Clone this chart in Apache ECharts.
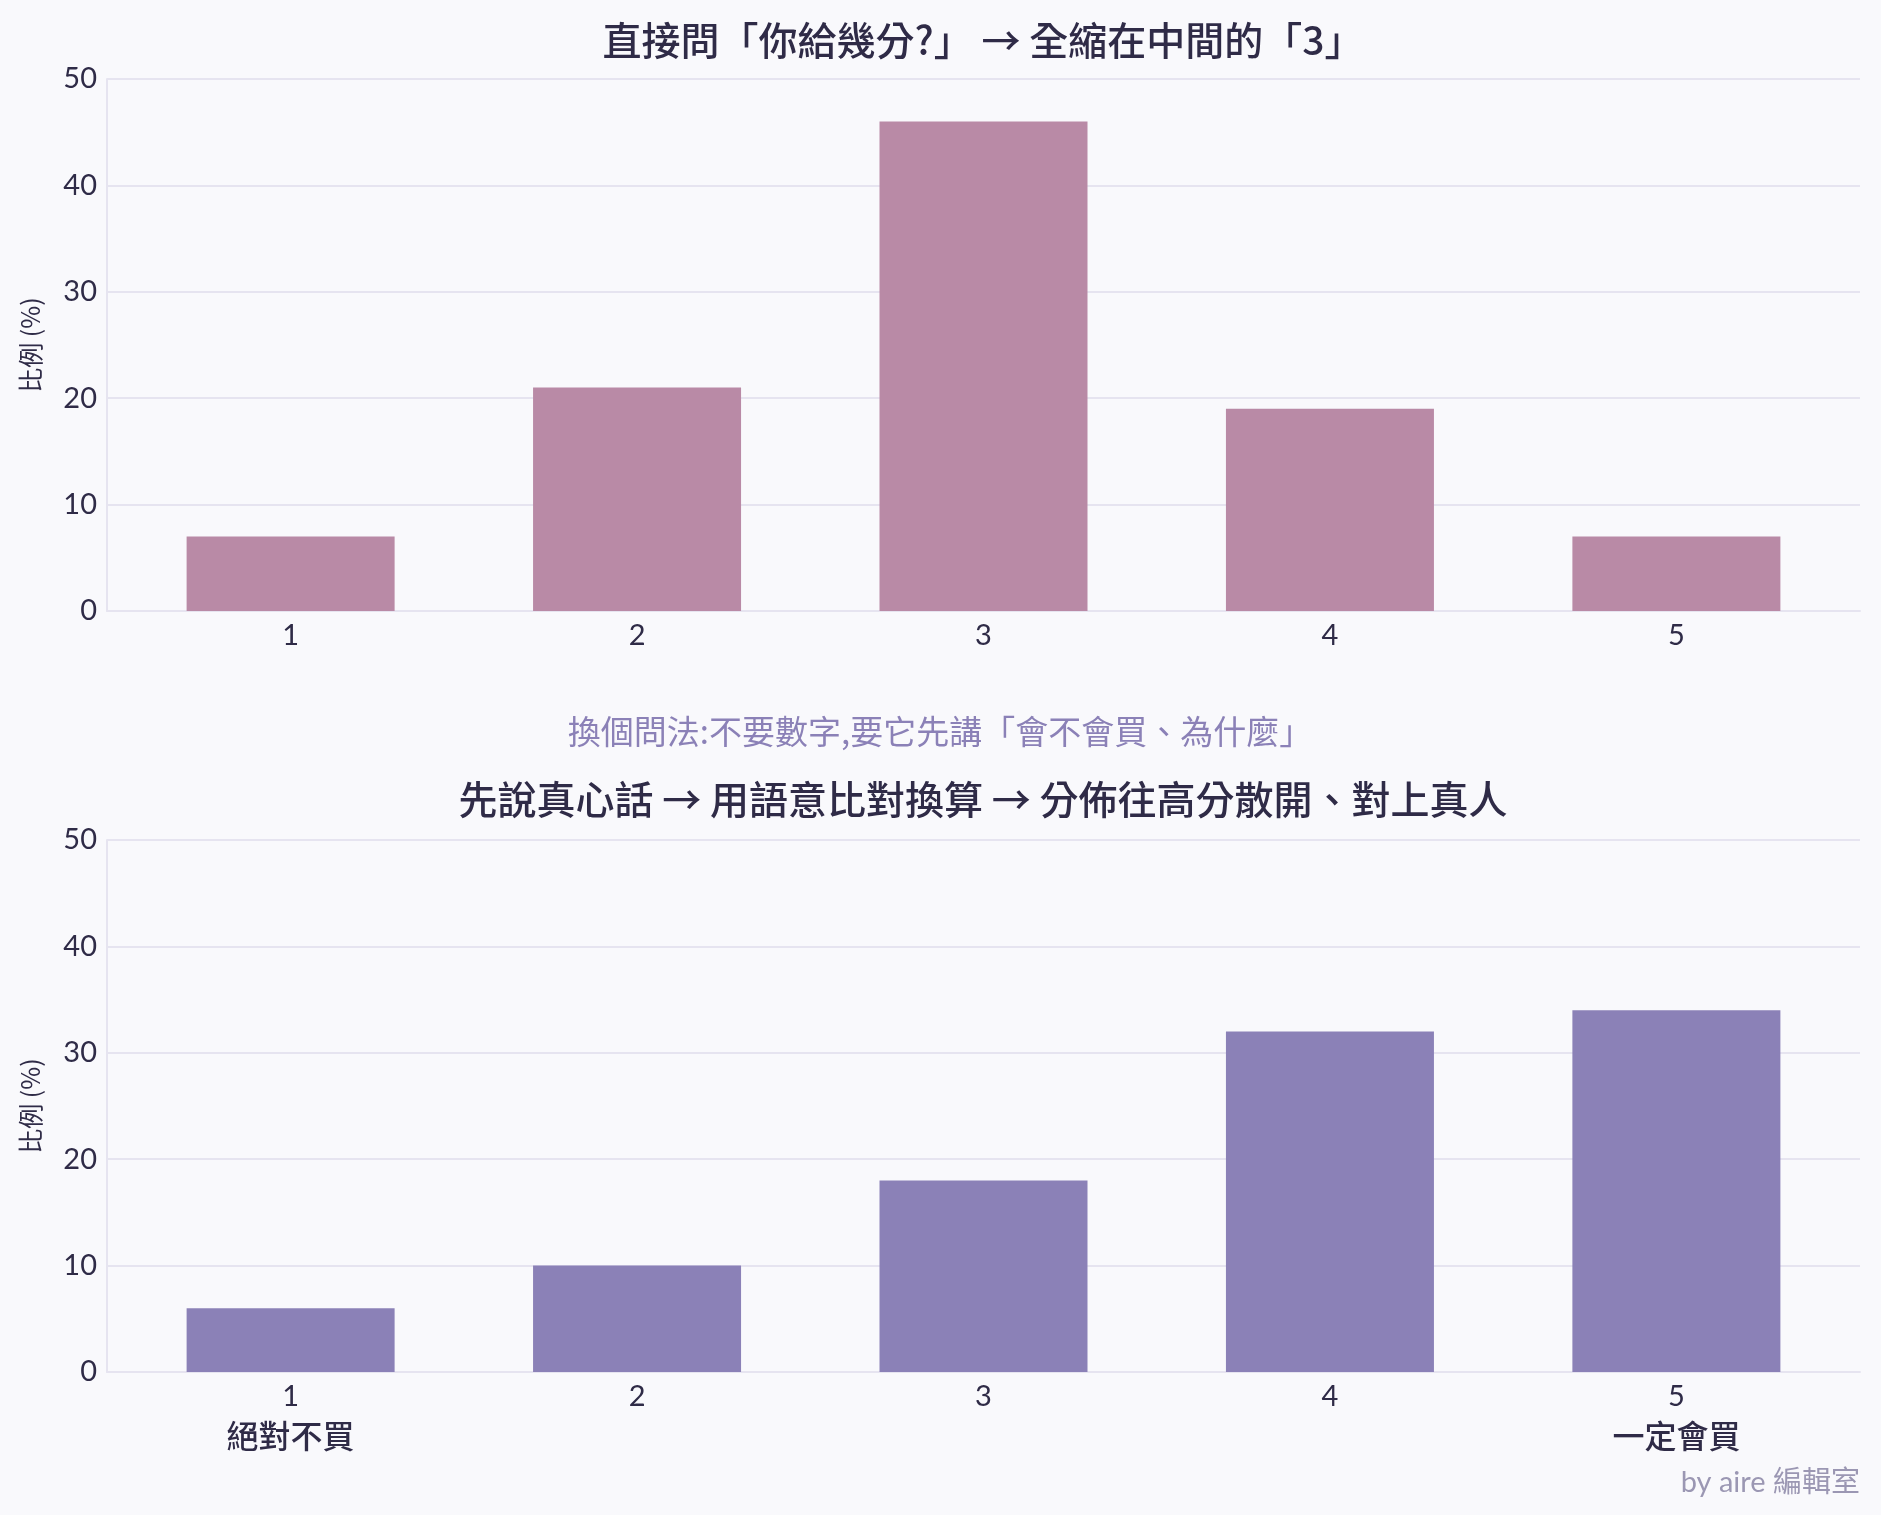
<!DOCTYPE html>
<html>
<head>
<meta charset="utf-8">
<script src="https://cdn.jsdelivr.net/npm/echarts@6/dist/echarts.min.js"></script>
<style>
  html, body { margin: 0; padding: 0; background: #f9f9fc; }
  #chart { width: 1881px; height: 1515px; }
</style>
</head>
<body>
<div id="chart"></div>
<script>
// 分數類別
const scores = ['1', '2', '3', '4', '5'];
// 直接問分數的分佈 (%)
const directValues = [7, 21, 46, 19, 7];
// 語意比對換算後的分佈 (%)
const semanticValues = [6, 10, 18, 32, 34];
// 下方圖的兩端說明
const bottomNotes = ['絕對不買', '', '', '', '一定會買'];
const yTicks = [0, 10, 20, 30, 40, 50];

const CJK = '"Noto Sans CJK TC", "Noto Sans", sans-serif';
const NUM = 'Lato, "Noto Sans CJK TC", sans-serif';
const dark = '#2f2b47';
const gridColor = '#e6e4f0';

const chart = echarts.init(document.getElementById('chart'));

// 類別 → [位置, 值]，用數值軸讓兩端留白
function toPoints(values) {
    return values.map(function (v, i) { return [i, v]; });
}

function yAxisOf(gridIndex) {
    return {
        gridIndex: gridIndex,
        type: 'value',
        min: yTicks[0],
        max: yTicks[yTicks.length - 1],
        interval: 10,
        name: '比例 (%)',
        nameLocation: 'middle',
        nameGap: 64,
        nameTextStyle: { color: dark, fontSize: 25, fontFamily: CJK },
        axisLine: { show: true, onZero: false, lineStyle: { color: gridColor, width: 2 } },
        axisTick: { show: false },
        axisLabel: { color: dark, fontSize: 29, fontFamily: NUM, margin: 10 },
        splitLine: { lineStyle: { color: gridColor, width: 2 } }
    };
}

function xAxisOf(gridIndex, withNotes) {
    return {
        gridIndex: gridIndex,
        type: 'value',
        min: -0.53,
        max: 4.53,
        splitLine: { show: false },
        axisLine: { onZero: false, lineStyle: { color: gridColor, width: 2 } },
        axisTick: { show: false },
        axisLabel: {
            customValues: [0, 1, 2, 3, 4],
            color: dark,
            fontSize: 29,
            fontFamily: NUM,
            margin: 6,
            lineHeight: 38,
            formatter: function (value) {
                const index = Math.round(value);
                if (withNotes && bottomNotes[index]) {
                    return scores[index] + '\n{note|' + bottomNotes[index] + '}';
                }
                return scores[index];
            },
            rich: {
                note: { fontSize: 32, fontFamily: CJK, color: dark, fontWeight: 500, lineHeight: 40 }
            }
        }
    };
}

// 標題置中於繪圖區
const plotCenter = 983;
function titleText(text, y, size, color, weight) {
    return {
        type: 'text',
        x: plotCenter,
        y: y,
        style: {
            text: text,
            align: 'center',
            verticalAlign: 'middle',
            fill: color,
            font: weight + ' ' + size + 'px ' + CJK
        }
    };
}

const option = {
    backgroundColor: '#f9f9fc',
    animation: false,
    graphic: [
        titleText('直接問「你給幾分?」 → 全縮在中間的「3」', 40, 39, dark, 500),
        titleText('先說真心話 → 用語意比對換算 → 分佈往高分散開、對上真人', 799, 39, dark, 500),
        {
            type: 'text',
            x: 940,
            y: 731,
            style: {
                text: '換個問法:不要數字,要它先講「會不會買、為什麼」',
                align: 'center',
                verticalAlign: 'middle',
                fill: '#8b81b7',
                font: '400 33px ' + CJK
            }
        },
        {
            type: 'text',
            right: 21,
            top: 1468,
            style: {
                text: 'by aire 編輯室',
                fill: '#9b97b3',
                font: '400 29px ' + NUM
            }
        }
    ],
    grid: [
        { left: 107, right: 21, top: 79, height: 532 },
        { left: 107, right: 21, top: 840, height: 532 }
    ],
    xAxis: [xAxisOf(0, false), xAxisOf(1, true)],
    yAxis: [yAxisOf(0), yAxisOf(1)],
    series: [{
        type: 'bar',
        xAxisIndex: 0,
        yAxisIndex: 0,
        barWidth: 208,
        itemStyle: { color: '#b98aa6' },
        data: toPoints(directValues)
    }, {
        type: 'bar',
        xAxisIndex: 1,
        yAxisIndex: 1,
        barWidth: 208,
        itemStyle: { color: '#8b81b7' },
        data: toPoints(semanticValues)
    }]
};

chart.setOption(option);
</script>
</body>
</html>
